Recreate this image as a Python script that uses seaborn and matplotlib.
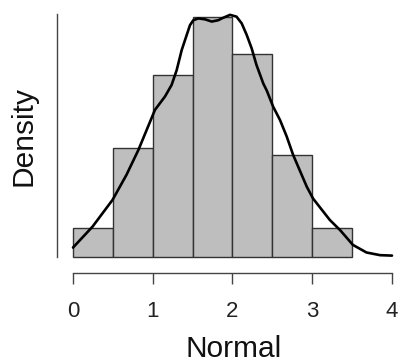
import matplotlib
matplotlib.use("Agg")
import matplotlib.pyplot as plt
import seaborn as sns
import numpy as np
import pandas as pd

# Histogram bins (density heights)
bin_edges = [0.0, 0.5, 1.0, 1.5, 2.0, 2.5, 3.0, 3.5]
bin_density = [0.065, 0.244, 0.407, 0.537, 0.455, 0.228, 0.065]

# Density curve
kde_x = [0.0, 0.245, 0.496, 0.67, 0.82, 0.924, 1.028, 1.154, 1.237, 1.30,
         1.363, 1.426, 1.467, 1.509, 1.571, 1.655, 1.739, 1.822, 1.865, 1.969,
         2.05, 2.115, 2.178, 2.24, 2.30, 2.386, 2.43, 2.51, 2.596, 2.68, 2.76,
         2.93, 3.01, 3.22, 3.35, 3.51, 3.68, 3.85, 4.0]
kde_y = [0.020, 0.067, 0.127, 0.183, 0.239, 0.284, 0.329, 0.359, 0.385, 0.418,
         0.463, 0.497, 0.519, 0.530, 0.534, 0.532, 0.527, 0.530, 0.534, 0.542,
         0.538, 0.523, 0.497, 0.467, 0.430, 0.388, 0.372, 0.336, 0.306, 0.269,
         0.228, 0.157, 0.130, 0.082, 0.059, 0.026, 0.009, 0.003, 0.002]

x_ticks = [0, 1, 2, 3, 4]

sns.set_style("white")
plt.rcParams["font.family"] = ["Liberation Sans", "DejaVu Sans"]

W, H = 398, 363
fig = plt.figure(figsize=(W / 100, H / 100), dpi=100)

# axes in pixel coordinates
left_px, right_px, top_px, bottom_px = 57, 398, 5, 273
ax = fig.add_axes([left_px / W, (H - bottom_px) / H,
                   (right_px - left_px) / W, (bottom_px - top_px) / H])

centers = [(a + b) / 2 for a, b in zip(bin_edges[:-1], bin_edges[1:])]
hist_df = pd.DataFrame({"x": centers, "w": bin_density})
sns.histplot(data=hist_df, x="x", weights="w", bins=bin_edges, stat="count",
             color="#bebebe", edgecolor="#333333", linewidth=1.0, alpha=1.0,
             ax=ax)

kde_df = pd.DataFrame({"x": kde_x, "y": kde_y})
sns.lineplot(data=kde_df, x="x", y="y", color="black", linewidth=1.9,
             sort=False, ax=ax)
for ln in ax.lines:
    ln.set_solid_joinstyle("round")
    ln.set_solid_capstyle("round")

k = 0.002243  # density per pixel
ax.set_xlim((left_px - 73) / 79.75, (right_px - 73) / 79.75)
ax.set_ylim((256.5 - bottom_px) * k, (256.5 - top_px) * k)

for s in ["top", "right"]:
    ax.spines[s].set_visible(False)
ax.spines["left"].set_bounds(0, (256.5 - 14) * k)
ax.spines["bottom"].set_bounds(0, 4)
for s in ["left", "bottom"]:
    ax.spines[s].set_color("#444444")
    ax.spines[s].set_linewidth(1.0)

ax.set_yticks([])
ax.set_xticks(x_ticks)
ax.set_xticklabels([str(t) for t in x_ticks])
ax.tick_params(axis="x", bottom=True, direction="out", length=8, width=1.0,
               color="#444444", pad=12, labelsize=16, labelcolor="#222222")
ax.set_xlabel("")
ax.set_ylabel("")

fig.text(234 / W, (H - 349) / H, "Normal", ha="center", va="center",
         fontsize=21.5, color="#111111")
fig.text(24 / W, (H - 136) / H, "Density", ha="center", va="center",
         rotation=90, fontsize=21.5, color="#111111")

fig.savefig("out.png", dpi=100)
